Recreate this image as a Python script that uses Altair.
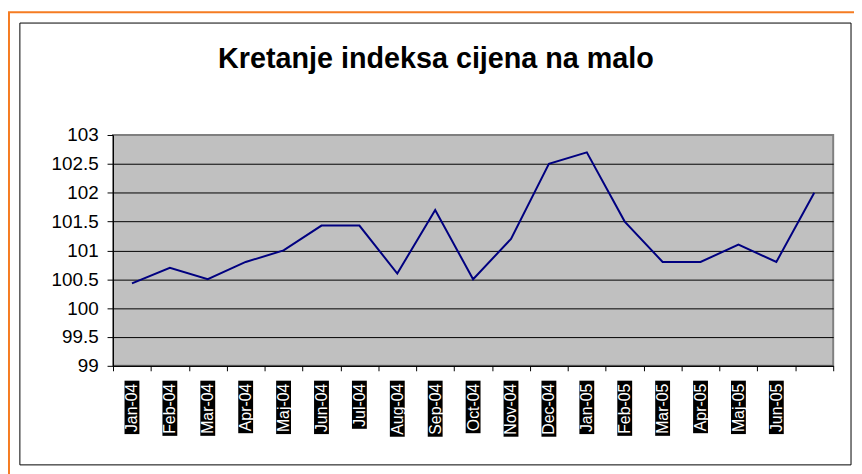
import altair as alt
import pandas as pd

TITLE = "Kretanje indeksa cijena na malo"
months = ["Jan-04", "Feb-04", "Mar-04", "Apr-04", "Maj-04", "Jun-04", "Jul-04",
          "Aug-04", "Sep-04", "Oct-04", "Nov-04", "Dec-04", "Jan-05", "Feb-05",
          "Mar-05", "Apr-05", "Maj-05", "Jun-05", "Jul-05"]
tick_labels = ["Jan-04", "Feb-04", "Mar-04", "Apr-04", "Maj-04", "Jun-04", "Jul-04",
               "Aug-04", "Sep-04", "Oct-04", "Nov-04", "Dec-04", "Jan-05", "Feb-05",
               "Mar-05", "Apr-05", "Maj-05", "Jun-05", ""]
values = [100.43, 100.7, 100.5, 100.8, 101.0, 101.43, 101.43, 100.6, 101.7, 100.5,
          101.2, 102.5, 102.7, 101.5, 100.8, 100.8, 101.1, 100.8, 102.0]
y_ticks = [99, 99.5, 100, 100.5, 101, 101.5, 102, 102.5, 103]

FONT = "Liberation Sans, Arial, sans-serif"
LABEL_SIZE = 16
PLOT_W, PLOT_H = 727, 233
BOX_TOP = 248

# approximate Arial advance widths (per 1000 em) for label background boxes
_W = {"J": 500, "a": 556, "n": 556, "-": 333, "0": 556, "4": 556, "5": 556, "F": 611,
      "e": 556, "b": 556, "M": 833, "r": 333, "A": 667, "p": 556, "j": 222, "i": 222,
      "u": 556, "l": 222, "g": 556, "S": 667, "O": 778, "c": 500, "t": 278, "N": 722,
      "o": 556, "v": 500, "D": 722}


def text_len(s, size):
    return sum(_W.get(ch, 556) for ch in s) * size / 1000.0


df = pd.DataFrame({"month": months, "value": values, "label": tick_labels})
lab = df[df["label"] != ""].copy()
lab["box_top"] = BOX_TOP
lab["box_bottom"] = [BOX_TOP + text_len(s, LABEL_SIZE) + 5 for s in lab["label"]]

x_scale = alt.Scale(type="band", paddingInner=0, paddingOuter=0)

x_enc = alt.X("month:O", sort=months, scale=x_scale, bandPosition=0.5,
              axis=alt.Axis(labels=False, title=None, tickBand="extent", tickSize=5,
                            tickColor="black", domainColor="black", grid=False,
                            ticks=True, domain=True))

line = alt.Chart(df).mark_line(color="#000080", strokeWidth=2).encode(
    x=x_enc,
    y=alt.Y("value:Q", scale=alt.Scale(domain=[99, 103], nice=False, zero=False),
            axis=alt.Axis(values=y_ticks, format="~f", title=None, grid=True,
                          gridColor={"condition": {"test": "datum.value === 103", "value": "#808080"},
                                     "value": "black"},
                          gridWidth=1, tickSize=6, tickColor="black", domainColor="black",
                          labelFont=FONT, labelFontSize=19, labelColor="black",
                          labelPadding=9)),
)

boxes = alt.Chart(lab).mark_rule(color="black", strokeWidth=15, strokeCap="butt").encode(
    x=alt.X("month:O", sort=months, scale=x_scale, bandPosition=0.5),
    y=alt.Y("box_top:Q", scale=None, axis=None),
    y2="box_bottom:Q",
)

labels = alt.Chart(lab).mark_text(
    angle=270, align="right", baseline="middle", color="white",
    font=FONT, fontSize=LABEL_SIZE, dy=0.5,
).encode(
    x=alt.X("month:O", sort=months, scale=x_scale, bandPosition=0.5),
    y=alt.value(BOX_TOP + 3),
    text="label:N",
)

one = alt.Data(values=[{}])
orange = alt.Chart(one).mark_rect(filled=False, stroke="#F57C22", strokeWidth=2).encode(
    x=alt.value(-105), x2=alt.value(800), y=alt.value(-124), y2=alt.value(400))
frame = alt.Chart(one).mark_rect(filled=False, stroke="black", strokeWidth=1).encode(
    x=alt.value(-94), x2=alt.value(745), y=alt.value(-113), y2=alt.value(333))

title = alt.Chart(pd.DataFrame({"t": [TITLE]})).mark_text(
    font=FONT, fontSize=29, fontWeight="bold", color="black",
    align="center", baseline="alphabetic",
).encode(text="t:N", x=alt.value(326), y=alt.value(-68))

chart = alt.layer(orange, frame, line, boxes, labels, title).properties(
    width=PLOT_W, height=PLOT_H,
    autosize=alt.AutoSizeParams(type="none"),
    padding={"left": 106, "top": 126, "right": 21, "bottom": 107},
    background="white",
).configure_view(fill="#C0C0C0", stroke="#808080", strokeWidth=2)

chart.save("out.html", embed_options={"renderer": "svg", "actions": False})
